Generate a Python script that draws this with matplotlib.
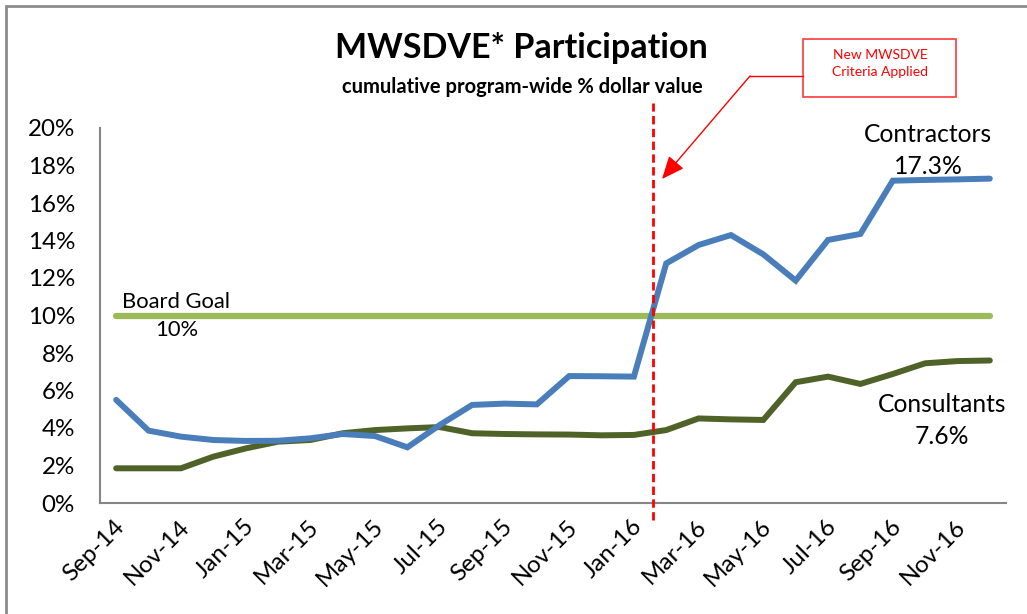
import numpy as np
import matplotlib
matplotlib.use("Agg")
import matplotlib.pyplot as plt
import matplotlib.transforms as mtransforms
from matplotlib.patches import Rectangle

# months on the category axis (Sep-14 .. Dec-16)
months = ["Sep-14", "Oct-14", "Nov-14", "Dec-14", "Jan-15", "Feb-15", "Mar-15",
          "Apr-15", "May-15", "Jun-15", "Jul-15", "Aug-15", "Sep-15", "Oct-15",
          "Nov-15", "Dec-15", "Jan-16", "Feb-16", "Mar-16", "Apr-16", "May-16",
          "Jun-16", "Jul-16", "Aug-16", "Sep-16", "Oct-16", "Nov-16", "Dec-16"]

# cumulative participation, % of dollar value
contractors = [5.5, 3.86, 3.54, 3.36, 3.31, 3.32, 3.45, 3.68, 3.57, 2.97,
               4.16, 5.23, 5.3, 5.26, 6.77, 6.76, 6.74, 12.78, 13.76, 14.29,
               13.26, 11.86, 14.03, 14.35, 17.19, 17.23, 17.26, 17.3]
consultants = [1.85, 1.85, 1.85, 2.47, 2.91, 3.27, 3.36, 3.72, 3.89, 3.98,
               4.05, 3.72, 3.68, 3.66, 3.65, 3.61, 3.63, 3.89, 4.51, 4.46,
               4.43, 6.44, 6.74, 6.35, 6.88, 7.45, 7.57, 7.6]
board_goal = [10.0] * len(months)

y_ticks = [0, 2, 4, 6, 8, 10, 12, 14, 16, 18, 20]
criteria_change = 16.6   # new criteria applied, between Jan-16 and Feb-16

FONT = ["Lato", "DejaVu Sans"]
plt.rcParams["font.family"] = FONT

W, H = 1027, 614
fig = plt.figure(figsize=(W / 100, H / 100), dpi=100)
ax = fig.add_axes([100 / W, 1 - 503 / H, 906 / W, 375 / H])

x = np.arange(len(months))
ax.plot(x, board_goal, color="#9BBB59", lw=4.5, solid_capstyle="round", zorder=2)
ax.plot(x, consultants, color="#4F6228", lw=4.3, solid_capstyle="round",
        solid_joinstyle="miter", zorder=3)
ax.plot(x, contractors, color="#4A7EBB", lw=4.3, solid_capstyle="round",
        solid_joinstyle="miter", zorder=4)

ax.set_xlim(-0.5, len(months) - 0.5)
ax.set_ylim(0, 20)
ax.set_yticks(y_ticks)
ax.set_yticklabels([f"{v}%" for v in y_ticks], fontsize=17.4)
ax.set_xticks(x[::2])
ax.set_xticklabels(months[::2], fontsize=17.5, rotation=45, ha="right",
                   va="center", rotation_mode="anchor")
ax.tick_params(axis="y", length=0, pad=18)
ax.tick_params(axis="x", length=0, pad=13)
# nudge rotated labels a bit right, like Excel places them
shift = mtransforms.ScaledTranslation(5 / 100, -2 / 100, fig.dpi_scale_trans)
for lbl in ax.get_xticklabels():
    lbl.set_transform(lbl.get_transform() + shift)

for side in ["top", "right"]:
    ax.spines[side].set_visible(False)
for side in ["left", "bottom"]:
    ax.spines[side].set_color("#868686")
    ax.spines[side].set_linewidth(1.5)

# dashed marker for the criteria change
trans = mtransforms.blended_transform_factory(ax.transData, ax.transAxes)
ax.plot([criteria_change, criteria_change], [-0.045, 1.067], transform=trans,
        color="#FF0000", lw=2, ls=(0, (3, 1.6)), clip_on=False, zorder=5)

# series labels
fig.text(176 / W, 1 - 302 / H, "Board Goal", fontsize=15.8, ha="center", va="center")
fig.text(177 / W, 1 - 330 / H, "10%", fontsize=15.8, ha="center", va="center")
fig.text(928 / W, 1 - 135 / H, "Contractors", fontsize=17.7, ha="center", va="center")
fig.text(928 / W, 1 - 167 / H, "17.3%", fontsize=17.7, ha="center", va="center")
fig.text(942 / W, 1 - 405 / H, "Consultants", fontsize=17.7, ha="center", va="center")
fig.text(942 / W, 1 - 437 / H, "7.6%", fontsize=17.7, ha="center", va="center")

# titles
fig.text(521 / W, 1 - 48 / H, "MWSDVE* Participation", fontsize=24.5,
         fontweight="bold", ha="center", va="center")
fig.text(522 / W, 1 - 87 / H, "cumulative program-wide % dollar value",
         fontsize=14.5, fontweight="bold", ha="center", va="center")

# callout box + arrow
box = Rectangle((803 / W, 1 - 97 / H), 153 / W, 58 / H, transform=fig.transFigure,
                fill=False, edgecolor="#FF3B3B", lw=1.2)
fig.patches.append(box)
fig.text(880 / W, 1 - 55 / H, "New MWSDVE", fontsize=10, color="#FF0000",
         ha="center", va="center")
fig.text(880 / W, 1 - 72 / H, "Criteria Applied", fontsize=10, color="#FF0000",
         ha="center", va="center")
fig.lines.append(plt.Line2D([750 / W, 803 / W], [1 - 76 / H, 1 - 76 / H],
                            transform=fig.transFigure, color="#FF0000", lw=1))
ax.annotate("", xy=(662 / W, 1 - 179 / H), xycoords="figure fraction",
            xytext=(750 / W, 1 - 76 / H), textcoords="figure fraction",
            arrowprops=dict(arrowstyle="-|>,head_length=1.4,head_width=0.6",
                            color="#FF0000", lw=1, shrinkA=0, shrinkB=0))

# outer chart border (clipped at right/bottom in the reference)
border = Rectangle((6 / W, -0.2), 1.5, 1.2 - 6 / H, transform=fig.transFigure,
                   fill=False, edgecolor="#8C8C8C", lw=2)
fig.patches.append(border)

fig.savefig("out.png", dpi=100)
